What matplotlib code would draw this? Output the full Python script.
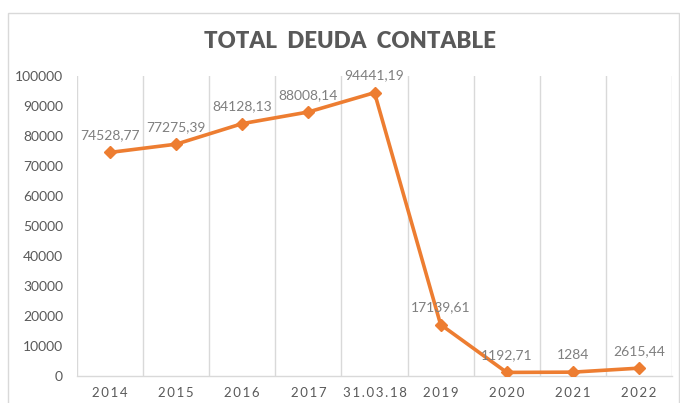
import matplotlib
matplotlib.use("Agg")
import matplotlib.pyplot as plt
from matplotlib.patches import Rectangle

plt.rcParams['font.family'] = ['Lato', 'DejaVu Sans']

categories = ["2014", "2015", "2016", "2017", "31.03.18", "2019", "2020", "2021", "2022"]
values = [74528.77, 77275.39, 84128.13, 88008.14, 94441.19, 17139.61, 1192.71, 1284, 2615.44]
value_labels = ["74528,77", "77275,39", "84128,13", "88008,14", "94441,19",
                "17139,61", "1192,71", "1284", "2615,44"]
y_ticks = [0, 10000, 20000, 30000, 40000, 50000, 60000, 70000, 80000, 90000, 100000]

ORANGE = "#ED7D31"
TEXT = "#595959"
GRID = "#D9D9D9"


def spaced(s):
    # Excel draws category labels with extra letter spacing
    return "\u2009".join(s)


fig = plt.figure(figsize=(6.8, 4.03), dpi=100)
fig.patches.append(Rectangle((8 / 680, -0.05), (671 / 680), 1.05 - 13 / 403,
                             transform=fig.transFigure, fill=False,
                             edgecolor=GRID, linewidth=1))

ax = fig.add_axes([77 / 680, 27 / 403, 595 / 680, 300 / 403])
x = list(range(len(categories)))
ax.plot(x, values, color=ORANGE, linewidth=2.6, marker="D", markersize=6,
        markerfacecolor=ORANGE, markeredgecolor=ORANGE, zorder=3)

for xi, v, lab in zip(x, values, value_labels):
    ax.annotate(lab, (xi, v), xytext=(0, 8), textcoords="offset points",
                ha="center", va="bottom", fontsize=10, color="#7F7F7F")

ax.set_xlim(-0.5, len(categories) - 0.5)
ax.set_ylim(0, 100000)
ax.set_yticks(y_ticks)
ax.set_yticklabels([str(t) for t in y_ticks], fontsize=10, color=TEXT)
ax.set_xticks(x)
ax.set_xticklabels([spaced(c) for c in categories], fontsize=9.5, color=TEXT)
ax.set_xticks([i - 0.5 for i in range(len(categories) + 1)], minor=True)
ax.tick_params(axis="both", which="both", length=0)
ax.tick_params(axis="x", pad=8)
ax.tick_params(axis="y", pad=10)
ax.grid(True, axis="x", which="minor", color=GRID, linewidth=1)
for side in ["top", "right", "left"]:
    ax.spines[side].set_visible(False)
ax.spines["bottom"].set_color(GRID)
ax.spines["bottom"].set_linewidth(1)

fig.text(350 / 680, 1 - 42 / 403, "TOTAL  DEUDA  CONTABLE",
         ha="center", va="center", fontsize=16, fontweight="heavy", color=TEXT)

fig.savefig("out.png", dpi=100)
